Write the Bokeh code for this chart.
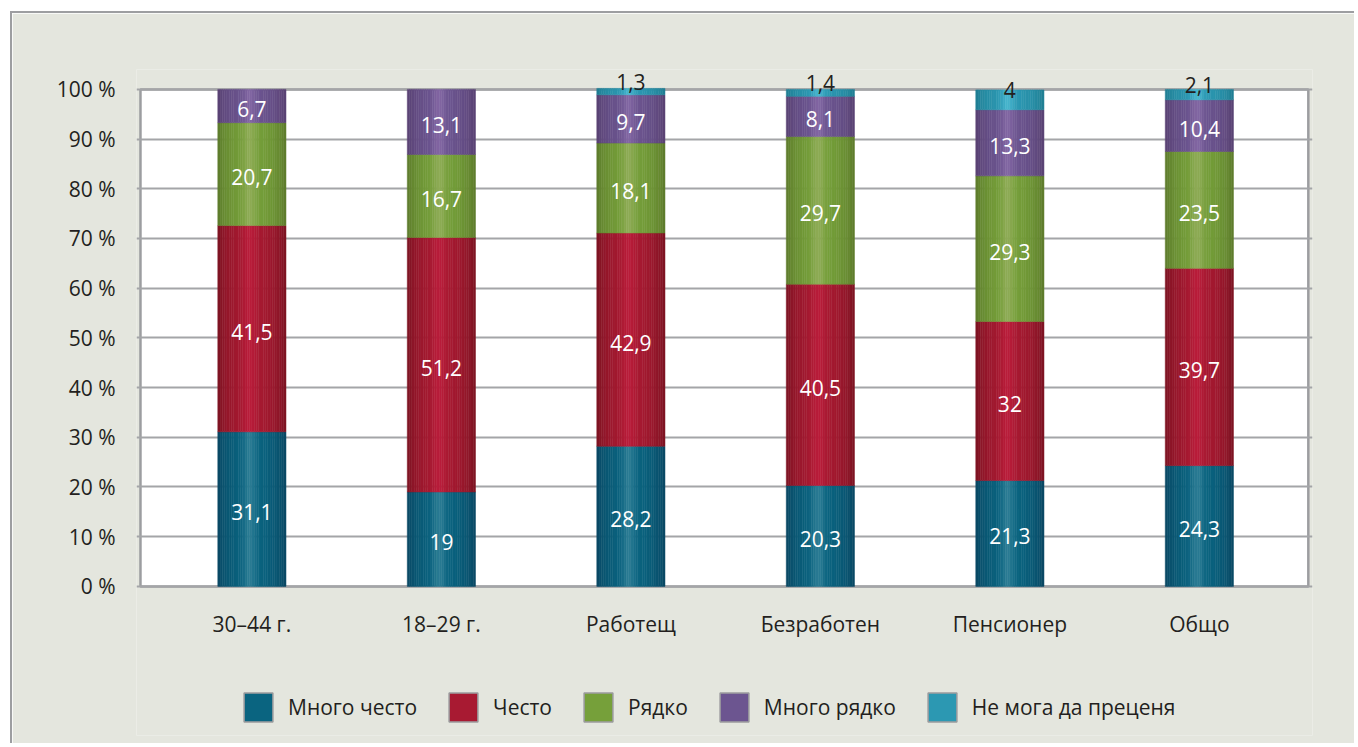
import math
from bokeh.plotting import figure
from bokeh.models import (ColumnDataSource, Range1d, FixedTicker, PrintfTickFormatter,
                          Legend, LegendItem)
from bokeh.core.properties import value
from bokeh.embed import file_html
from bokeh.resources import INLINE

# ---------------- data ----------------
categories = ["30–44 г.", "18–29 г.", "Работещ", "Безработен", "Пенсионер", "Общо"]
series_names = ["Много често", "Често", "Рядко", "Много рядко", "Не мога да преценя"]
mnogo_chesto = [31.1, 19, 28.2, 20.3, 21.3, 24.3]
chesto = [41.5, 51.2, 42.9, 40.5, 32, 39.7]
ryadko = [20.7, 16.7, 18.1, 29.7, 29.3, 23.5]
mnogo_ryadko = [6.7, 13.1, 9.7, 8.1, 13.3, 10.4]
ne_moga = [0, 0, 1.3, 1.4, 4, 2.1]
y_ticks = [0, 10, 20, 30, 40, 50, 60, 70, 80, 90, 100]

series_values = [mnogo_chesto, chesto, ryadko, mnogo_ryadko, ne_moga]

# (edge, mid, highlight) colours per series
palette = [
    ("#0a4460", "#0a6480", "#2b7b93"),
    ("#761320", "#a81a32", "#b91d3a"),
    ("#5a762a", "#76a03a", "#8dab55"),
    ("#563f6e", "#6c5590", "#8166a2"),
    ("#1f7a8e", "#2c98b2", "#46b4cc"),
]

FONT = "Open Sans"
TXT = "#231f20"
BG = "#e4e6de"
FRAME_GRAY = "#9c9da0"
BAR_W = 0.36
N_STRIPS = 30
X_LO, X_HI = -0.588, 5.575       # plot-area box in category units


def hex2rgb(h):
    h = h.lstrip("#")
    return [int(h[i:i + 2], 16) for i in (0, 2, 4)]


def mix(a, b, t):
    ca, cb = hex2rgb(a), hex2rgb(b)
    return "#%02x%02x%02x" % tuple(int(round(x + (y - x) * t)) for x, y in zip(ca, cb))


def strip_color(edge, mid, hi, t):
    f = math.sin(math.pi * t) ** 0.6
    c = mix(edge, mid, f)
    g = math.exp(-((t - 0.47) / 0.09) ** 2)
    return mix(c, hi, g)


def fmt(v):
    return ("%g" % v).replace(".", ",")


# ---------------- figure ----------------
W, H = 1344, 732
p = figure(width=W, height=H, output_backend="svg", toolbar_location=None,
           x_range=Range1d(-0.609, 5.597), y_range=Range1d(-30, 104),
           min_border_left=124, min_border_top=56, min_border_right=44,
           min_border_bottom=10)
p.styles = {"margin-left": "10px", "margin-top": "11px",
            "border-left": "2px solid #9d9ea1", "border-top": "2px solid #9d9ea1"}
p.border_fill_color = BG
p.background_fill_color = BG
p.outline_line_color = None

# white plot area with grey border
p.quad(left=[X_LO], right=[X_HI], bottom=[y_ticks[0]], top=[y_ticks[-1]],
       fill_color="white", line_color=FRAME_GRAY, line_width=2.5, level="image")

# grid
p.xgrid.grid_line_color = None
p.ygrid.grid_line_color = "#a4a5a8"
p.ygrid.grid_line_width = 2
p.ygrid.ticker = FixedTicker(ticks=y_ticks)

# axes
p.yaxis.ticker = FixedTicker(ticks=y_ticks)
p.yaxis.formatter = PrintfTickFormatter(format="%d %%")
p.xaxis.ticker = FixedTicker(ticks=list(range(len(categories))))
p.xaxis.major_label_overrides = {i: c for i, c in enumerate(categories)}
p.xaxis.fixed_location = 0
for ax in (p.xaxis, p.yaxis):
    ax.axis_line_color = None
    ax.major_tick_line_color = None
    ax.minor_tick_line_color = None
    ax.major_tick_out = 0
    ax.major_tick_in = 0
    ax.minor_tick_out = 0
    ax.major_label_text_font = FONT
    ax.major_label_text_font_size = "21px"
    ax.major_label_text_color = TXT
p.yaxis.major_label_standoff = 21
p.xaxis.major_label_standoff = 24

# ---------------- bars (gradient strips) ----------------
rects = dict(left=[], right=[], bottom=[], top=[], color=[])
labels = {k: dict(x=[], y=[], text=[]) for k in ("light", "dark")}
base = [0.0] * len(categories)
for s, vals in enumerate(series_values):
    edge, mid, hi = palette[s]
    for i, v in enumerate(vals):
        if v <= 0:
            continue
        b, t = base[i], base[i] + v
        x0 = i - BAR_W / 2
        sw = BAR_W / N_STRIPS
        for k in range(N_STRIPS):
            tt = (k + 0.5) / N_STRIPS
            rects["left"].append(x0 + k * sw)
            rects["right"].append(x0 + (k + 1) * sw)
            rects["bottom"].append(b)
            rects["top"].append(t)
            rects["color"].append(strip_color(edge, mid, hi, tt))
        key = "dark" if s == 4 else "light"
        labels[key]["x"].append(i)
        labels[key]["y"].append((b + t) / 2)
        labels[key]["text"].append(fmt(v))
        base[i] = t

p.quad(left="left", right="right", bottom="bottom", top="top",
       fill_color="color", line_color="color", line_width=0.5,
       source=ColumnDataSource(rects))

p.text(x="x", y="y", text="text", source=ColumnDataSource(labels["light"]),
       text_align="center", text_baseline="middle", text_color="white",
       text_font=value(FONT), text_font_size="21px", y_offset=3)
p.text(x="x", y="y", text="text", source=ColumnDataSource(labels["dark"]),
       text_align="center", text_baseline="middle", text_color=TXT,
       text_font=value(FONT), text_font_size="21px", y_offset=-10)

# ---------------- legend ----------------
nan = float("nan")
items = []
for s, name in enumerate(series_names):
    r = p.quad(left=[nan], right=[nan], bottom=[nan], top=[nan],
               fill_color=palette[s][1], line_color="#9a9b9d", line_width=1.5)
    items.append(LegendItem(label=name, renderers=[r]))

legend = Legend(items=items, orientation="horizontal", location=(104, 10),
                glyph_width=36, glyph_height=36, label_standoff=12, spacing=28,
                padding=0, margin=0, border_line_color=None,
                background_fill_alpha=0, label_text_font=FONT,
                label_text_font_size="21px", label_text_color=TXT)
p.add_layout(legend, "center")

open("out.html", "w").write(file_html(p, INLINE))
